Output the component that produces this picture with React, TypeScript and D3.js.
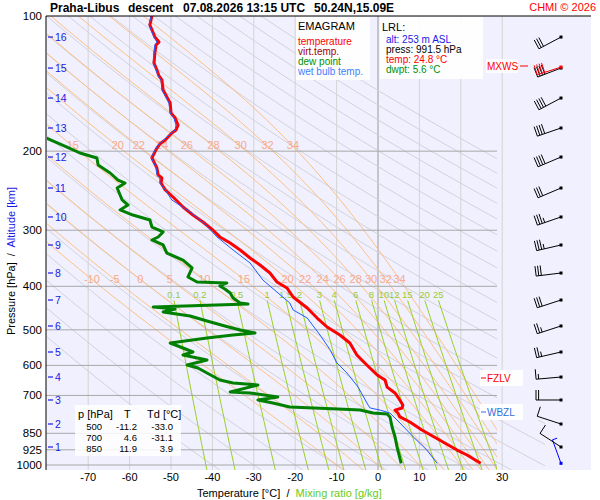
import * as d3 from 'd3'

// [pressure hPa, value °C]
const temperature: [number, number][] = [
  [100, -54.6], [104.7, -55.1], [107.4, -54.6], [111.4, -53.9], [114.3, -52.9], [116, -53.6],
  [120.9, -53.9], [127.3, -54.1], [131.9, -53.4], [136, -52.9], [138.8, -52.2], [146.2, -51.9],
  [151.5, -51.0], [156.2, -50.2], [164.4, -50.0], [168.7, -49.0], [174.9, -48.3], [179.5, -48.8],
  [182.2, -49.8], [188.9, -51.4], [192.8, -52.7], [196.8, -53.4], [200.9, -53.9], [207.1, -54.6],
  [218, -53.4], [226, -53.1], [229.5, -52.2], [235.4, -52.4], [244, -51.4], [253, -49.5],
  [266.3, -47.1], [277.5, -44.7], [287.6, -42.3], [299.6, -39.9], [310.5, -38.2], [320.3, -35.7],
  [332, -33.3], [345.9, -30.9], [358.6, -28.5], [373.6, -26.1], [391.2, -24.4], [403.4, -22.0],
  [422.5, -20.5], [447, -17.1], [470.6, -14.7], [492.8, -12.3], [513.5, -9.2], [535, -6.8],
  [568.8, -5.1], [598.8, -2.7], [630.2, -0.2], [646.8, 1.7], [670.6, 2.2], [691, 4.1],
  [705.7, 4.8], [735.2, 6.0], [746.5, 5.8], [754.6, 4.1], [766.1, 4.8], [781.6, 5.3],
  [802, 7.7], [835.6, 10.6], [870.6, 14.0], [926.2, 19.1], [949.9, 21.5], [991.5, 24.8],
]

const dewPoint: [number, number][] = [
  [186, -80.7], [195.8, -75.1], [201.9, -72.0], [207.1, -67.9], [214.7, -67.6], [223.7, -64.7],
  [231.9, -62.8], [235.5, -61.1], [241.6, -63.0], [256.9, -61.8], [263.6, -60.4], [270.4, -62.3],
  [277.5, -59.2], [284.7, -55.1], [295.1, -54.6], [302.7, -51.9], [310.6, -53.1], [315.4, -54.6],
  [323.6, -51.9], [337.2, -51.0], [349.5, -47.1], [364.1, -44.9], [381.3, -45.9], [391.2, -43.7],
  [393.2, -36.5], [399.3, -38.2], [405.5, -37.0], [413.9, -35.7], [424.7, -35.0], [435.7, -33.3],
  [437.9, -31.4], [444.7, -54.3], [449.3, -49.0], [456.3, -51.9], [465.7, -45.4], [477.8, -41.3],
  [490.2, -37.0], [500.4, -33.3], [508.1, -29.7], [513.4, -35.0], [521.4, -41.3], [534.9, -50.2],
  [548.8, -47.1], [560.2, -44.7], [568.9, -47.1], [583.7, -41.3], [598.8, -46.1], [608.1, -43.5],
  [623.9, -41.3], [646.7, -38.2], [656.7, -35.0], [663.5, -29.0], [687.7, -35.7], [691.2, -30.9],
  [705.5, -24.2], [716.5, -29.0], [727.6, -25.4], [742.7, -21.3], [750.4, -9.7], [754.2, -4.3],
  [765.9, -1.2], [769.9, 2.2], [781.8, 2.9], [823, 3.4], [865.3, 4.1], [911.8, 4.6], [991.5, 5.6],
]

const wetBulb: [number, number][] = [
  [100, -54.8], [104.7, -55.3], [107.4, -54.8], [111.4, -54.1], [114.3, -53.4], [116, -53.9],
  [120.9, -54.1], [127.3, -54.3], [131.9, -53.6], [136, -53.1], [138.8, -52.4], [146.2, -52.2],
  [151.5, -51.2], [156.2, -50.5], [164.4, -50.2], [168.7, -49.3], [174.9, -48.8], [179.5, -49.0],
  [182.2, -50.0], [188.9, -51.7], [192.8, -52.9], [196.8, -53.6], [200.9, -54.1], [206.1, -54.8],
  [218, -53.6], [226, -53.4], [229.5, -52.7], [235.4, -52.7], [244, -51.4], [256.9, -49.8],
  [273.1, -45.4], [290.6, -41.8], [310.5, -38.9], [332, -35.0], [354.9, -30.9], [387.3, -27.8],
  [412, -24.4], [435.7, -21.3], [451.5, -20.5], [470.6, -17.1], [513.5, -14.0], [553.5, -11.6],
  [592.8, -9.9], [623.9, -7.5], [670.6, -4.8], [735.2, -2.4], [746.5, -1.9], [754.6, 0.5],
  [766.1, 2.9], [806, 5.3], [865.3, 8.5], [926.2, 11.8], [991.5, 14.3],
]

const pressureTicks = [100, 200, 300, 400, 500, 600, 700, 850, 925, 1000]
const tempTicks = [-70, -60, -50, -40, -30, -20, -10, 0, 10, 20, 30]
const altKm = [1, 2, 3, 4, 5, 6, 7, 8, 9, 10, 11, 12, 13, 14, 15, 16]
const altP = [911.8, 810.4, 716.5, 636.9, 560.2, 490.2, 429.1, 373.6, 323.6, 280.3, 241.6, 206.1, 177.6, 152.3, 130.6, 111.4]

// wind: surface first, then 1..16 km
const windP = [991.5, 911.8, 810.4, 716.5, 636.9, 560.2, 490.2, 429.1, 373.6, 323.6, 280.3, 241.6, 206.1, 177.6, 152.3, 130.6, 111.4]
const windDir = [340, 303, 288, 270, 265, 257, 252, 252, 263, 257, 251, 247, 247, 251, 242, 249, 242]
const windKt = [5, 10, 10, 20, 15, 25, 25, 30, 30, 35, 35, 30, 40, 40, 40, 40, 30]

const moistLow = [-10, -5, 0, 5, 10, 15, 20, 22, 24, 26, 28, 30, 32, 34]
const moistHigh = [15, 20, 22, 24, 26, 28, 30, 32, 34]
const mixRatios = [0.1, 0.2, 0.5, 1, 1.5, 2, 3, 4, 6, 8, 10, 12, 15, 20, 25]
const dryThetas = d3.range(-40, 201, 10)

const tableP = ['500', '700', '850']
const tableT = ['-11.2', '4.6', '11.9']
const tableTd = ['-33.0', '-31.1', '3.9']

const FONT = 'Arial, "Liberation Sans", sans-serif'

const x = d3.scaleLinear().domain([-80, 40]).range([46.8, 543.6])
const y = d3.scaleLog().domain([100, 1000]).range([16, 465])

const line = d3.line<[number, number]>().x(d => x(d[1])).y(d => y(d[0]))

function dTdp(p: number, T: number) {
  const Tc = T - 273.15
  const es = 6.112 * Math.exp((17.67 * Tc) / (Tc + 243.5))
  const rs = (0.622 * es) / (p - es)
  const Rd = 287.04, cp = 1005.7, Lv = 2.501e6
  return ((Rd * T + Lv * rs) / p) / (cp + (Lv * Lv * rs * 0.622) / (Rd * T * T))
}

function moistAdiabat(thw: number): [number, number][] {
  const up: [number, number][] = []
  let T = thw + 273.15
  for (let p = 1000; p >= 100; p -= 5) {
    up.push([p, T - 273.15])
    const k1 = dTdp(p, T)
    const k2 = dTdp(p - 2.5, T - 2.5 * k1)
    T -= 5 * k2
  }
  const down: [number, number][] = []
  T = thw + 273.15
  for (let p = 1005; p <= 1060; p += 5) {
    T += 5 * dTdp(p - 2.5, T)
    down.push([p, T - 273.15])
  }
  return [...down.reverse(), ...up]
}

function mixingT(w: number, p: number) {
  const e = (w * p) / (622 + w)
  const l = Math.log(e / 6.112)
  return (243.5 * l) / (17.67 - l)
}

function atP(curve: [number, number][], p: number) {
  const c = [...curve].sort((a, b) => a[0] - b[0])
  const i = d3.bisector((d: [number, number]) => d[0]).left(c, p)
  const a = c[Math.max(0, i - 1)], b = c[Math.min(c.length - 1, i)]
  const t = b[0] === a[0] ? 0 : (p - a[0]) / (b[0] - a[0])
  return a[1] + t * (b[1] - a[1])
}

function Barb({ cx, cy, dir, kt, color }: { cx: number; cy: number; dir: number; kt: number; color: string }) {
  const rad = (dir * Math.PI) / 180
  const hx = Math.sin(rad), hy = -Math.cos(rad)
  const px = -hy, py = hx
  const tx = cx + hx * 25, ty = cy + hy * 25
  let d = `M${cx},${cy}L${tx},${ty}`
  let rest = kt
  let pos = 0
  while (rest >= 10) {
    const bx = tx - hx * pos, by = ty - hy * pos
    d += `M${bx},${by}l${px * 10},${py * 10}`
    pos += 2.6
    rest -= 10
  }
  if (rest >= 5) {
    const bx = tx - hx * pos, by = ty - hy * pos
    d += `M${bx},${by}l${px * 5},${py * 5}`
  }
  return (
    <g>
      <path d={d} fill="none" stroke={color} strokeWidth={1} />
      <rect x={cx - 1.5} y={cy - 1.5} width={3} height={3} fill={color} />
    </g>
  )
}

export default function App() {
  const moist = moistLow.map(t => ({ t, pts: moistAdiabat(t) }))
  const dry = dryThetas.map(th =>
    d3.range(1060, 99, -10).map(p => [p, (th + 273.15) * Math.pow(p / 1000, 0.286) - 273.15] as [number, number])
  )
  const mix = mixRatios.map(w => ({
    w,
    pts: d3.range(430, 1061, 10).map(p => [p, mixingT(w, p)] as [number, number]),
  }))

  return (
    <svg width={600} height={500} style={{ position: 'absolute', left: 0, top: 0, fontFamily: FONT }}>
      <defs>
        <clipPath id="bg">
          <rect x={47} y={16} width={450} height={454} />
        </clipPath>
        <clipPath id="drybg">
          <polygon points="47,16 497,16 497,420 545,420 545,470 47,470" />
        </clipPath>
        <clipPath id="data">
          <rect x={47} y={16} width={500} height={454} />
        </clipPath>
      </defs>
      <rect width={600} height={500} fill="#fff" />
      <rect x={46} y={16} width={545} height={454} fill="#f0f0ff" />

      {/* temperature grid */}
      {tempTicks.map(t => (
        <line key={t} x1={x(t)} x2={x(t)} y1={16} y2={470} stroke={t === 0 ? '#999' : '#d4d4d4'} strokeWidth={1} />
      ))}

      <g clipPath="url(#drybg)" fill="none">
        {dry.map((pts, i) => (
          <path key={i} d={line(pts) ?? ''} stroke="#d2d2d8" strokeWidth={1} />
        ))}
      </g>
      <g clipPath="url(#bg)" fill="none">
        {moist.map(m => (
          <path key={m.t} d={line(m.pts) ?? ''} stroke="#ffc080" strokeWidth={1} />
        ))}
        {mix.map(m => (
          <path key={m.w} d={line(m.pts) ?? ''} stroke="#99d020" strokeWidth={1} />
        ))}
      </g>

      {/* isobars */}
      {pressureTicks.slice(1).map(p => (
        <line key={p} x1={46} x2={497} y1={y(p)} y2={y(p)} stroke="#a8a8a8" strokeWidth={1} />
      ))}

      {/* adiabat labels */}
      <g fontSize={11} fill="#f8aa8c" textAnchor="middle">
        {moistHigh.map(t => {
          const m = moist.find(d => d.t === t)!
          return <text key={t} x={x(atP(m.pts, 195))} y={149}>{t}</text>
        })}
        {moistLow.map(t => {
          const m = moist.find(d => d.t === t)!
          return <text key={t} x={x(atP(m.pts, 386))} y={283}>{t}</text>
        })}
      </g>
      <g fontSize={9.5} fill="#99cc33" textAnchor="middle">
        {mixRatios.map(w => (
          <text key={w} x={x(mixingT(w, 428))} y={298}>{w}</text>
        ))}
      </g>

      {/* profiles */}
      <g clipPath="url(#data)" fill="none" strokeLinejoin="round">
        <path d={line(dewPoint) ?? ''} stroke="#008000" strokeWidth={3} />
        <path d={line(temperature) ?? ''} stroke="#ff0000" strokeWidth={3} />
        <path d={line(wetBulb) ?? ''} stroke="#1e5cff" strokeWidth={1} />
      </g>

      {/* axes */}
      <line x1={46} x2={46} y1={16} y2={470} stroke="#000" />
      <line x1={46} x2={591} y1={16} y2={16} stroke="#000" />
      <g fontSize={11.5} textAnchor="end" fill="#000">
        {pressureTicks.map(p => (
          <text key={p} x={42} y={y(p) + 4}>{p}</text>
        ))}
      </g>
      <g fill="#1a1ae6" fontSize={10.5}>
        {altKm.map((k, i) => (
          <g key={k}>
            <line x1={48} x2={53} y1={y(altP[i])} y2={y(altP[i])} stroke="#1a1ae6" strokeWidth={1.2} />
            <text x={55} y={y(altP[i]) + 4}>{k}</text>
          </g>
        ))}
      </g>
      <g fontSize={11} textAnchor="middle">
        {tempTicks.map(t => (
          <text key={t} x={x(t)} y={481}>{t}</text>
        ))}
      </g>
      <text x={197} y={497} fontSize={11} style={{ whiteSpace: 'pre' }}>
        Temperature [°C]  /  <tspan fill="#66cc22">Mixing ratio [g/kg]</tspan>
      </text>
      <text transform="rotate(-90)" x={-335} y={15} fontSize={11} style={{ whiteSpace: 'pre' }}>
        Pressure [hPa]  /  <tspan fill="#1a1ae6">Altitude [km]</tspan>
      </text>

      {/* title */}
      <g fontSize={12} fontWeight="bold">
        <text x={50} y={12}>Praha-Libus</text>
        <text x={128} y={12}>descent</text>
        <text x={183} y={12}>07.08.2026 13:15 UTC</text>
        <text x={314} y={12}>50.24N,15.09E</text>
      </g>
      <text x={596} y={11} fontSize={11} textAnchor="end" fill="#ff0000">CHMI © 2026</text>

      {/* legend */}
      <rect x={296} y={17} width={74} height={63} fill="#fff" opacity={0.92} />
      <text x={298} y={30} fontSize={11}>EMAGRAM</text>
      <g fontSize={10}>
        <text x={298} y={45} fill="#ff0000">temperature</text>
        <text x={298} y={55} fill="#a00000">virt.temp.</text>
        <text x={298} y={65} fill="#009000">dew point</text>
        <text x={298} y={75} fill="#4080ff">wet bulb temp.</text>
      </g>
      <rect x={380} y={17} width={103} height={62} fill="#fff" opacity={0.92} />
      <text x={382} y={31} fontSize={11}>LRL:</text>
      <g fontSize={10}>
        <text x={386} y={43} fill="#1a1ae6">alt: 253 m ASL</text>
        <text x={386} y={53}>press: 991.5 hPa</text>
        <text x={386} y={63} fill="#ff0000">temp: 24.8 °C</text>
        <text x={386} y={73} fill="#009000">dwpt: 5.6 °C</text>
      </g>

      {/* table */}
      <rect x={75} y={405} width={106} height={51} fill="#fff" opacity={0.85} />
      <g fontSize={11}>
        <text x={78} y={418}>p [hPa]</text>
        <text x={124} y={418}>T</text>
        <text x={147} y={418}>Td [°C]</text>
      </g>
      <g fontSize={9.5} textAnchor="end">
        {tableP.map((p, i) => (
          <g key={p}>
            <text x={102} y={430 + i * 11}>{p}</text>
            <text x={137} y={430 + i * 11}>{tableT[i]}</text>
            <text x={173} y={430 + i * 11}>{tableTd[i]}</text>
          </g>
        ))}
      </g>

      {/* level markers */}
      <rect x={486} y={59} width={32} height={14} fill="#fff" opacity={0.8} />
      <text x={487} y={70} fontSize={10} fill="#ff0000">MXWS</text>
      <line x1={520} x2={528} y1={66} y2={66} stroke="#ff0000" />
      <rect x={480} y={370} width={43} height={16} fill="#fff" opacity={0.9} />
      <line x1={481} x2={486} y1={378} y2={378} stroke="#ff0000" />
      <text x={487} y={382} fontSize={10} fill="#ff0000">FZLV</text>
      <rect x={480} y={404} width={43} height={16} fill="#fff" opacity={0.9} />
      <line x1={481} x2={486} y1={412} y2={412} stroke="#3070e0" />
      <text x={487} y={416} fontSize={10} fill="#3070e0">WBZL</text>

      {/* wind barbs */}
      {windP.map((p, i) => (
        <Barb key={i} cx={561} cy={y(p)} dir={windDir[i]} kt={windKt[i]} color={i === 0 ? '#0000ff' : '#000'} />
      ))}
      <Barb cx={561} cy={y(windP[15]) - 1} dir={windDir[15] + 3} kt={windKt[15]} color="#ff0000" />
    </svg>
  )
}
